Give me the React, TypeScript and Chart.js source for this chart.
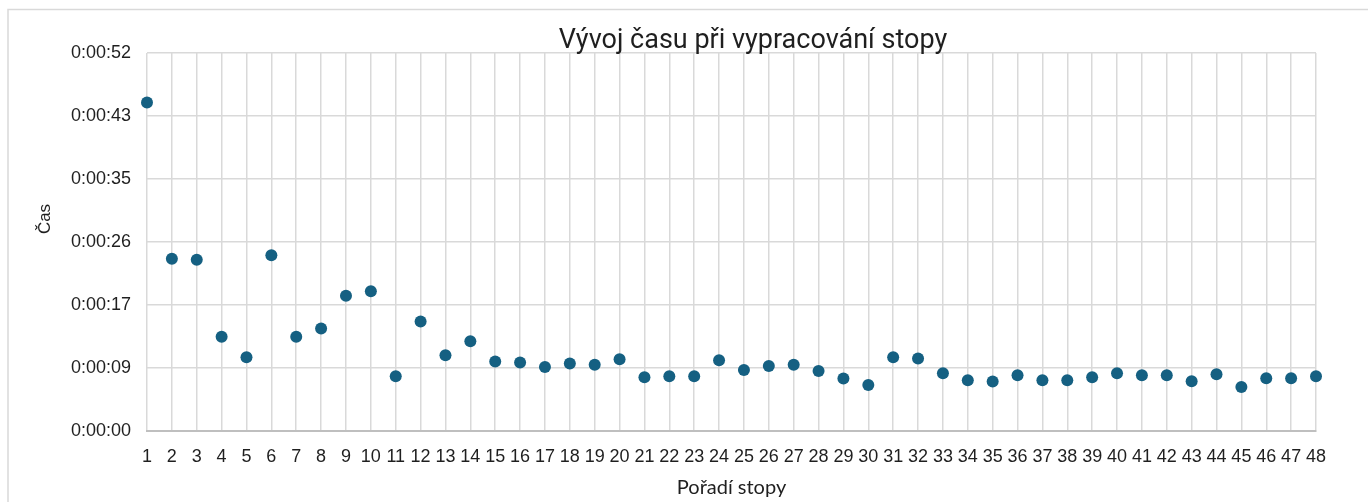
import React, { useEffect, useRef } from "react";
import { Chart, registerables } from "chart.js";

Chart.register(...registerables);

const chartTitle = "Vývoj času při vypracování stopy";
const xAxisTitle = "Pořadí stopy";
const yAxisTitle = "Čas";

const categories = Array.from({ length: 48 }, (_, i) => String(i + 1));

// seconds for each track
const times = [
  45.05, 23.63, 23.49, 12.91, 10.12, 24.09, 12.91, 14.07, 18.54, 19.15,
  7.51, 15.03, 10.4, 12.32, 9.53, 9.39, 8.79, 9.26, 9.07, 9.85,
  7.38, 7.51, 7.51, 9.71, 8.38, 8.93, 9.07, 8.24, 7.2, 6.32,
  10.12, 9.94, 7.93, 6.96, 6.79, 7.65, 6.96, 6.96, 7.38, 7.93,
  7.65, 7.65, 6.83, 7.79, 6.04, 7.24, 7.24, 7.51,
];

const yTickValues = [0, 8.64, 17.28, 25.92, 34.56, 43.2, 51.84];
const yTickLabels = ["0:00:00", "0:00:09", "0:00:17", "0:00:26", "0:00:35", "0:00:43", "0:00:52"];

const textColor = "#1f1f1f";
const gridColor = "#d9d9d9";
const pointColor = "#156082";

const decorPlugin = {
  id: "decor",
  beforeDraw(chart: any) {
    const ctx = chart.ctx;
    ctx.save();
    ctx.strokeStyle = gridColor;
    ctx.lineWidth = 1.5;
    ctx.strokeRect(8, 9.5, 3000, 3000);
    ctx.restore();
  },
  afterDraw(chart: any) {
    const ctx = chart.ctx;
    ctx.save();
    ctx.fillStyle = textColor;
    ctx.font = "27px Roboto";
    ctx.textAlign = "center";
    ctx.textBaseline = "alphabetic";
    ctx.fillText(chartTitle, 753, 48);
    ctx.translate(45, 219);
    ctx.rotate(-Math.PI / 2);
    ctx.font = "17px 'Liberation Sans'";
    ctx.textBaseline = "middle";
    ctx.fillText(yAxisTitle, 0, 0);
    ctx.restore();
  },
};

export default function App() {
  const ref = useRef<HTMLCanvasElement>(null);
  useEffect(() => {
    if (!ref.current) return;
    const chart = new Chart(ref.current, {
      type: "line",
      data: {
        labels: categories,
        datasets: [
          {
            data: times,
            showLine: false,
            pointRadius: 6,
            pointHoverRadius: 6,
            pointBackgroundColor: pointColor,
            pointBorderColor: pointColor,
            pointBorderWidth: 0,
            borderColor: pointColor,
          },
        ],
      },
      options: {
        responsive: false,
        animation: false,
        layout: { padding: { top: 53, right: 52, bottom: 0, left: 0 } },
        plugins: { legend: { display: false }, tooltip: { enabled: false }, title: { display: false } },
        scales: {
          x: {
            type: "category",
            offset: false,
            grid: { color: gridColor, lineWidth: 1.5, drawTicks: false },
            border: { color: "#bfbfbf", width: 2 },
            ticks: {
              color: textColor,
              font: { family: "'Liberation Sans'", size: 18 },
              padding: 15,
              maxRotation: 0,
              autoSkip: false,
            },
            title: {
              display: true,
              text: xAxisTitle,
              color: textColor,
              font: { family: "Lato", size: 20 },
              padding: { top: 0, bottom: 2 },
            },
            afterFit: (s: any) => {
              s.height = 71;
            },
          },
          y: {
            min: 0,
            max: 51.84,
            grid: { color: gridColor, lineWidth: 1.5, drawTicks: false },
            border: { display: false },
            afterBuildTicks: (s: any) => {
              s.ticks = yTickValues.map((v) => ({ value: v }));
            },
            ticks: {
              color: textColor,
              font: { family: "'Liberation Sans'", size: 18 },
              padding: 16,
              callback: (_v: any, i: number) => yTickLabels[i],
            },
            afterFit: (s: any) => {
              s.width = 147;
            },
          },
        },
      },
      plugins: [decorPlugin],
    });
    return () => chart.destroy();
  }, []);
  return (
    <canvas
      ref={ref}
      width={1368}
      height={502}
      style={{ position: "absolute", left: 0, top: 0, width: 1368, height: 502 }}
    />
  );
}
